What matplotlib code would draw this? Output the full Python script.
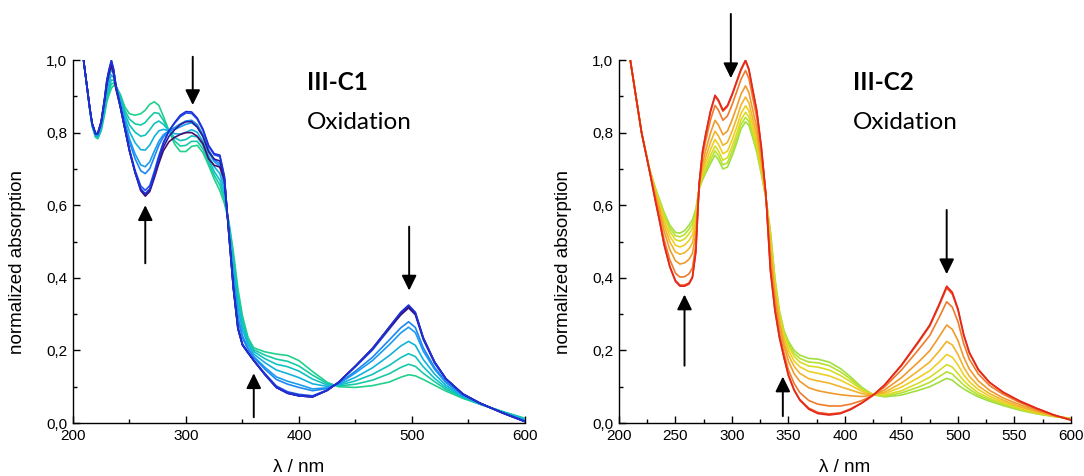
import numpy as np
import matplotlib.pyplot as plt
from matplotlib.ticker import MultipleLocator, FuncFormatter

# ---------------- III-C1 (left) ----------------
c1_wl = [207, 210, 215, 217, 220, 222, 225, 228, 230, 232, 234, 236, 238, 242, 246, 250, 255, 260, 264, 268, 272, 276, 280, 285, 290,
         295, 300, 305, 310, 315, 320, 325, 330, 334, 338, 342, 346, 350, 355, 360, 370, 380, 390, 400, 412,
         425, 435, 450, 465, 480, 490, 497, 503, 510, 520, 530, 545, 560, 580, 600]

c1_purple = [1.06, 0.985, 0.865, 0.825, 0.797, 0.798, 0.83, 0.89, 0.935, 0.965, 0.985, 0.962, 0.92, 0.87, 0.81, 0.75, 0.69, 0.64, 0.625, 0.638, 0.675, 0.715, 0.75, 0.775, 0.787,
             0.795, 0.80, 0.80, 0.79, 0.77, 0.728, 0.71, 0.705, 0.67, 0.52, 0.37, 0.26, 0.215, 0.193, 0.172, 0.133, 0.098, 0.082, 0.075, 0.072,
             0.09, 0.112, 0.157, 0.205, 0.262, 0.298, 0.318, 0.300, 0.233, 0.168, 0.122, 0.08, 0.055, 0.028, 0.004]
c1_indigo = [1.06, 0.985, 0.865, 0.825, 0.797, 0.798, 0.83, 0.892, 0.94, 0.97, 0.993, 0.968, 0.925, 0.87, 0.81, 0.75, 0.69, 0.643, 0.628, 0.642, 0.68, 0.722, 0.76, 0.79, 0.808,
             0.822, 0.83, 0.83, 0.815, 0.79, 0.748, 0.727, 0.722, 0.675, 0.52, 0.37, 0.26, 0.215, 0.193, 0.172, 0.133, 0.098, 0.082, 0.075, 0.072,
             0.09, 0.112, 0.157, 0.205, 0.264, 0.302, 0.322, 0.303, 0.234, 0.168, 0.122, 0.08, 0.055, 0.028, 0.004]
c1_blue = [1.06, 0.985, 0.865, 0.825, 0.797, 0.798, 0.83, 0.895, 0.945, 0.975, 1.0, 0.975, 0.93, 0.87, 0.81, 0.75, 0.69, 0.645, 0.632, 0.645, 0.685, 0.73, 0.77, 0.805, 0.828,
           0.848, 0.858, 0.857, 0.84, 0.81, 0.765, 0.742, 0.738, 0.68, 0.52, 0.37, 0.26, 0.215, 0.193, 0.172, 0.133, 0.098, 0.082, 0.075, 0.072,
           0.09, 0.112, 0.157, 0.205, 0.265, 0.305, 0.325, 0.305, 0.235, 0.168, 0.122, 0.08, 0.055, 0.028, 0.004]
c1_blue2 = [1.06, 0.985, 0.865, 0.825, 0.797, 0.797, 0.829, 0.893, 0.943, 0.972, 0.997, 0.973, 0.93, 0.871, 0.812, 0.754, 0.696, 0.653, 0.641, 0.654, 0.693, 0.736, 0.773, 0.805, 0.826,
            0.844, 0.854, 0.853, 0.837, 0.807, 0.763, 0.739, 0.734, 0.677, 0.521, 0.374, 0.264, 0.218, 0.195, 0.173, 0.136, 0.102, 0.086, 0.079, 0.075,
            0.091, 0.112, 0.155, 0.201, 0.259, 0.298, 0.317, 0.298, 0.230, 0.165, 0.121, 0.080, 0.055, 0.028, 0.004]
c1_sky = [1.06, 0.985, 0.864, 0.823, 0.795, 0.794, 0.824, 0.884, 0.931, 0.958, 0.981, 0.964, 0.930, 0.878, 0.824, 0.774, 0.728, 0.695, 0.687, 0.701, 0.733, 0.765, 0.788, 0.805, 0.814,
          0.824, 0.832, 0.834, 0.822, 0.794, 0.752, 0.725, 0.714, 0.662, 0.528, 0.394, 0.286, 0.234, 0.203, 0.180, 0.148, 0.120, 0.107, 0.098, 0.089,
          0.095, 0.109, 0.143, 0.181, 0.229, 0.262, 0.279, 0.263, 0.207, 0.153, 0.114, 0.077, 0.054, 0.029, 0.006]
c1_azure = [1.06, 0.985, 0.863, 0.823, 0.794, 0.793, 0.822, 0.881, 0.926, 0.953, 0.975, 0.961, 0.929, 0.881, 0.829, 0.783, 0.741, 0.711, 0.706, 0.720, 0.749, 0.776, 0.794, 0.805, 0.809,
            0.816, 0.823, 0.827, 0.816, 0.789, 0.747, 0.720, 0.707, 0.656, 0.531, 0.402, 0.295, 0.241, 0.206, 0.183, 0.153, 0.127, 0.115, 0.106, 0.094,
            0.097, 0.108, 0.138, 0.172, 0.216, 0.248, 0.264, 0.249, 0.198, 0.148, 0.111, 0.076, 0.054, 0.029, 0.007]
c1_cyan = [1.06, 0.985, 0.862, 0.821, 0.792, 0.790, 0.817, 0.872, 0.914, 0.939, 0.959, 0.952, 0.929, 0.888, 0.841, 0.803, 0.772, 0.753, 0.752, 0.766, 0.789, 0.805, 0.809, 0.805, 0.797,
           0.796, 0.801, 0.808, 0.801, 0.776, 0.736, 0.706, 0.687, 0.641, 0.538, 0.422, 0.317, 0.257, 0.215, 0.190, 0.166, 0.146, 0.136, 0.125, 0.108,
           0.101, 0.106, 0.126, 0.152, 0.186, 0.212, 0.225, 0.214, 0.175, 0.135, 0.104, 0.074, 0.053, 0.030, 0.009]
c1_teal = [1.06, 0.985, 0.862, 0.820, 0.790, 0.788, 0.813, 0.864, 0.903, 0.926, 0.945, 0.944, 0.929, 0.895, 0.852, 0.821, 0.801, 0.790, 0.793, 0.808, 0.825, 0.832, 0.823, 0.805, 0.786,
           0.778, 0.781, 0.791, 0.788, 0.765, 0.727, 0.693, 0.669, 0.628, 0.545, 0.440, 0.337, 0.271, 0.222, 0.197, 0.177, 0.162, 0.155, 0.143, 0.121,
           0.105, 0.104, 0.116, 0.134, 0.159, 0.180, 0.191, 0.183, 0.155, 0.123, 0.098, 0.072, 0.053, 0.031, 0.010]
c1_mint = [1.06, 0.985, 0.861, 0.819, 0.789, 0.785, 0.809, 0.857, 0.894, 0.916, 0.934, 0.937, 0.928, 0.900, 0.861, 0.837, 0.824, 0.821, 0.828, 0.843, 0.855, 0.853, 0.834, 0.805, 0.777,
           0.763, 0.765, 0.776, 0.776, 0.755, 0.718, 0.683, 0.655, 0.616, 0.550, 0.455, 0.354, 0.283, 0.229, 0.202, 0.187, 0.176, 0.170, 0.157, 0.132,
           0.109, 0.102, 0.107, 0.118, 0.136, 0.153, 0.162, 0.156, 0.137, 0.114, 0.093, 0.070, 0.052, 0.031, 0.012]
c1_green = [1.06, 0.985, 0.86, 0.818, 0.787, 0.783, 0.805, 0.85, 0.885, 0.905, 0.922, 0.93, 0.928, 0.905, 0.87, 0.852, 0.848, 0.852, 0.862, 0.878, 0.885, 0.875, 0.845, 0.805, 0.768,
            0.748, 0.748, 0.762, 0.765, 0.745, 0.71, 0.672, 0.64, 0.605, 0.555, 0.47, 0.37, 0.295, 0.235, 0.207, 0.196, 0.19, 0.186, 0.172, 0.142,
            0.112, 0.1, 0.098, 0.103, 0.113, 0.126, 0.133, 0.13, 0.12, 0.104, 0.088, 0.068, 0.052, 0.032, 0.013]

# ---------------- III-C2 (right) ----------------
c2_wl = [207, 210, 215, 220, 227, 232, 236, 240, 245, 250, 254, 258, 262, 265, 268, 271, 274, 277, 281, 285,
         288, 292, 296, 300, 304, 308, 312, 315, 318, 322, 326, 330, 334, 338, 342, 346, 350, 355, 360, 368,
         376, 386, 396, 405, 415, 425, 435, 450, 465, 475, 483, 490, 495, 500, 505, 510, 518, 528, 540, 555,
         570, 585, 600]

c2_red = [1.08, 1.0, 0.90, 0.80, 0.695, 0.615, 0.555, 0.49, 0.43, 0.39, 0.377, 0.377, 0.383, 0.40, 0.47, 0.66, 0.75, 0.80, 0.86, 0.903,
          0.89, 0.862, 0.875, 0.905, 0.94, 0.975, 1.0, 0.975, 0.925, 0.86, 0.76, 0.63, 0.42, 0.31, 0.235, 0.18, 0.13, 0.09, 0.063, 0.038,
          0.026, 0.022, 0.026, 0.037, 0.055, 0.077, 0.105, 0.16, 0.225, 0.27, 0.325, 0.377, 0.36, 0.315, 0.245, 0.195, 0.148, 0.112, 0.085, 0.06,
          0.04, 0.022, 0.008]
c2_red2 = [1.08, 1.0, 0.90, 0.80, 0.695, 0.616, 0.556, 0.492, 0.432, 0.393, 0.38, 0.38, 0.386, 0.403, 0.472, 0.66, 0.748, 0.798, 0.857, 0.90,
           0.887, 0.859, 0.872, 0.902, 0.937, 0.972, 0.997, 0.972, 0.922, 0.858, 0.758, 0.63, 0.422, 0.312, 0.237, 0.182, 0.132, 0.092, 0.065, 0.041,
           0.029, 0.025, 0.028, 0.039, 0.056, 0.077, 0.104, 0.158, 0.222, 0.267, 0.321, 0.372, 0.355, 0.311, 0.242, 0.193, 0.146, 0.111, 0.084, 0.06,
           0.04, 0.022, 0.008]
c2_vermilion = [1.08, 1.0, 0.90, 0.80, 0.696, 0.621, 0.565, 0.505, 0.450, 0.413, 0.402, 0.403, 0.411, 0.427, 0.490, 0.657, 0.736, 0.781, 0.835, 0.875,
                0.862, 0.834, 0.846, 0.876, 0.911, 0.947, 0.971, 0.949, 0.902, 0.840, 0.747, 0.628, 0.439, 0.325, 0.248, 0.193, 0.146, 0.109, 0.084, 0.062,
                0.052, 0.047, 0.047, 0.052, 0.062, 0.077, 0.099, 0.146, 0.202, 0.241, 0.289, 0.334, 0.319, 0.279, 0.219, 0.176, 0.135, 0.103, 0.079, 0.056,
                0.037, 0.021, 0.009]
c2_orange = [1.08, 1.0, 0.90, 0.80, 0.697, 0.630, 0.580, 0.528, 0.478, 0.447, 0.438, 0.441, 0.451, 0.467, 0.520, 0.654, 0.716, 0.754, 0.799, 0.834,
             0.821, 0.794, 0.804, 0.834, 0.869, 0.906, 0.929, 0.910, 0.868, 0.812, 0.729, 0.626, 0.466, 0.348, 0.267, 0.212, 0.170, 0.136, 0.115, 0.097,
             0.089, 0.083, 0.078, 0.075, 0.073, 0.077, 0.091, 0.125, 0.168, 0.199, 0.236, 0.270, 0.258, 0.227, 0.182, 0.149, 0.116, 0.090, 0.069, 0.050,
             0.034, 0.020, 0.010]
c2_amber = [1.08, 1.0, 0.90, 0.80, 0.698, 0.636, 0.591, 0.544, 0.499, 0.471, 0.465, 0.469, 0.480, 0.496, 0.542, 0.651, 0.702, 0.734, 0.773, 0.804,
            0.791, 0.765, 0.773, 0.803, 0.838, 0.876, 0.898, 0.882, 0.844, 0.791, 0.715, 0.624, 0.486, 0.364, 0.280, 0.225, 0.187, 0.156, 0.137, 0.122,
            0.116, 0.110, 0.100, 0.091, 0.081, 0.078, 0.085, 0.110, 0.144, 0.168, 0.197, 0.225, 0.215, 0.189, 0.154, 0.129, 0.102, 0.081, 0.063, 0.045,
            0.031, 0.020, 0.011]
c2_yellow = [1.08, 1.0, 0.90, 0.80, 0.699, 0.641, 0.599, 0.557, 0.515, 0.490, 0.485, 0.490, 0.503, 0.518, 0.559, 0.649, 0.691, 0.719, 0.753, 0.781,
             0.768, 0.742, 0.749, 0.779, 0.814, 0.853, 0.874, 0.860, 0.825, 0.775, 0.705, 0.623, 0.501, 0.377, 0.291, 0.236, 0.200, 0.171, 0.155, 0.142,
             0.137, 0.130, 0.118, 0.104, 0.087, 0.078, 0.081, 0.099, 0.125, 0.144, 0.167, 0.189, 0.181, 0.160, 0.133, 0.114, 0.092, 0.074, 0.058, 0.042,
             0.029, 0.019, 0.012]
c2_citron = [1.08, 1.0, 0.90, 0.80, 0.699, 0.645, 0.606, 0.567, 0.528, 0.505, 0.501, 0.507, 0.521, 0.536, 0.572, 0.647, 0.682, 0.707, 0.737, 0.763,
             0.750, 0.724, 0.731, 0.761, 0.796, 0.835, 0.856, 0.843, 0.810, 0.762, 0.696, 0.622, 0.514, 0.387, 0.299, 0.244, 0.211, 0.184, 0.168, 0.157,
             0.154, 0.146, 0.131, 0.114, 0.092, 0.078, 0.077, 0.089, 0.110, 0.126, 0.144, 0.161, 0.154, 0.136, 0.117, 0.102, 0.083, 0.068, 0.054, 0.039,
             0.027, 0.019, 0.012]
c2_chartreuse = [1.08, 1.0, 0.90, 0.80, 0.70, 0.648, 0.611, 0.574, 0.537, 0.516, 0.513, 0.519, 0.534, 0.549, 0.582, 0.646, 0.676, 0.698, 0.725, 0.750,
                 0.737, 0.711, 0.717, 0.747, 0.782, 0.822, 0.842, 0.831, 0.799, 0.753, 0.690, 0.621, 0.522, 0.394, 0.305, 0.250, 0.218, 0.192, 0.178, 0.168,
                 0.166, 0.158, 0.141, 0.121, 0.095, 0.078, 0.074, 0.083, 0.099, 0.112, 0.127, 0.141, 0.135, 0.120, 0.105, 0.093, 0.077, 0.064, 0.051, 0.037,
                 0.026, 0.018, 0.013]
c2_lime = [1.08, 1.0, 0.90, 0.80, 0.70, 0.65, 0.615, 0.58, 0.545, 0.525, 0.523, 0.53, 0.545, 0.56, 0.59, 0.645, 0.67, 0.69, 0.715, 0.738,
           0.725, 0.70, 0.705, 0.735, 0.77, 0.81, 0.83, 0.82, 0.79, 0.745, 0.685, 0.62, 0.53, 0.40, 0.31, 0.255, 0.225, 0.20, 0.187, 0.178,
           0.176, 0.168, 0.15, 0.127, 0.098, 0.078, 0.072, 0.077, 0.09, 0.10, 0.112, 0.123, 0.118, 0.105, 0.094, 0.085, 0.072, 0.06, 0.048, 0.035,
           0.025, 0.018, 0.013]

# drawing order: last in list is drawn on top
c1_curves = [c1_green, c1_mint, c1_teal, c1_cyan, c1_azure, c1_sky, c1_blue2, c1_purple, c1_indigo, c1_blue]
c1_colors = ['#22d08c', '#16caa4', '#10c2c0', '#12b2dc', '#1a9cf0', '#1e86f2', '#2050ee', '#4a0c6c', '#2a1c98', '#1e30d8']
c2_curves = [c2_lime, c2_chartreuse, c2_citron, c2_yellow, c2_amber, c2_orange, c2_vermilion, c2_red2, c2_red]
c2_colors = ['#9ee040', '#b6e032', '#d6dc28', '#eecf24', '#f2b42a', '#f09a2c', '#f07a2a', '#f04e1e', '#e2281c']

# arrows: (wavelength, tail value, tip value)
c1_arrows = [(306, 1.009, 0.876), (264, 0.44, 0.60), (497.5, 0.541, 0.365), (360, 0.016, 0.137)]
c2_arrows = [(299, 1.127, 0.95), (258, 0.158, 0.354), (490, 0.587, 0.41), (345, 0.019, 0.128)]

panels = [
    dict(rect=[0.0673, 0.1113, 0.417, 0.7626], wl=c1_wl, curves=c1_curves, colors=c1_colors,
         arrows=c1_arrows, title='III-C1', xmajor=100, xminor=50, ylab_x=18),
    dict(rect=[0.5710, 0.1113, 0.417, 0.7626], wl=c2_wl, curves=c2_curves, colors=c2_colors,
         arrows=c2_arrows, title='III-C2', xmajor=50, xminor=25, ylab_x=563),
]

W, H = 1084, 476
fig = plt.figure(figsize=(W / 100, H / 100), dpi=100)
comma = FuncFormatter(lambda v, p: f"{v:.1f}".replace('.', ','))

for p in panels:
    ax = fig.add_axes(p['rect'])
    for y, c in zip(p['curves'], p['colors']):
        ax.plot(p['wl'], y, color=c, lw=1.2, solid_joinstyle='round')
    ax.set_xlim(200, 600)
    ax.set_ylim(0, 1.0)
    ax.spines[['top', 'right']].set_visible(False)
    for s in ('left', 'bottom'):
        ax.spines[s].set_linewidth(1.0)
    ax.xaxis.set_major_locator(MultipleLocator(p['xmajor']))
    ax.xaxis.set_minor_locator(MultipleLocator(p['xminor']))
    ax.yaxis.set_major_locator(MultipleLocator(0.2))
    ax.yaxis.set_minor_locator(MultipleLocator(0.1))
    ax.yaxis.set_major_formatter(comma)
    ax.tick_params(which='both', direction='in', width=1.0, labelsize=11, pad=4)
    ax.tick_params(which='major', length=5)
    ax.tick_params(which='minor', length=3)
    for lab in ax.get_xticklabels() + ax.get_yticklabels():
        lab.set_fontfamily('Liberation Sans')

    for wl, tail, tip in p['arrows']:
        ax.annotate('', xy=(wl, tip), xytext=(wl, tail), annotation_clip=False,
                    arrowprops=dict(arrowstyle='-|>,head_length=0.65,head_width=0.32',
                                    color='black', lw=1.4, mutation_scale=14,
                                    shrinkA=0, shrinkB=0))

    ax.text(0.517, 0.917, p['title'], transform=ax.transAxes, fontsize=17.5,
            fontweight='bold', family='Lato', va='baseline', ha='left')
    ax.text(0.517, 0.809, 'Oxidation', transform=ax.transAxes, fontsize=17.5,
            family='Lato', va='baseline', ha='left')

    x0, y0, w, h = p['rect']
    fig.text(x0 + w / 2, 1 - 468 / H, 'λ / nm', ha='center', va='center',
             fontsize=13.5, family='Liberation Sans')
    fig.text(p['ylab_x'] / W, 1 - 262 / H, 'normalized absorption', rotation=90,
             ha='center', va='center', fontsize=13.5, family='Liberation Sans')

fig.savefig('out.png', dpi=100)
